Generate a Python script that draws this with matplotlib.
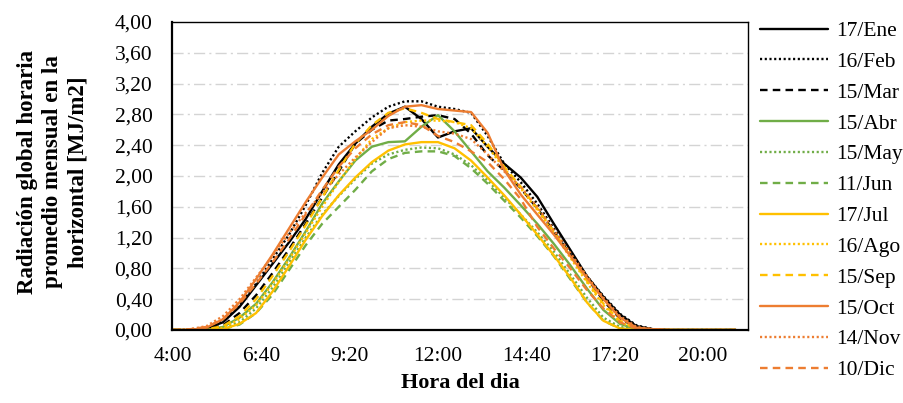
import matplotlib
matplotlib.use("Agg")
import matplotlib.pyplot as plt
import numpy as np

# half-hourly samples from 4:00 to 21:00
hours = np.arange(4.0, 21.01, 0.5)

ene = [0,0,0.02,0.10,0.30,0.58,0.86,1.14,1.44,1.80,2.15,2.42,2.64,2.81,2.90,2.74,2.50,2.58,2.62,2.38,2.16,1.98,1.73,1.38,1.04,0.70,0.43,0.20,0.05,0.01,0,0,0,0,0]
feb = [0,0,0.02,0.12,0.32,0.60,0.92,1.24,1.62,2.04,2.38,2.58,2.76,2.90,2.97,2.97,2.90,2.87,2.82,2.52,2.16,1.92,1.64,1.32,1.00,0.70,0.44,0.21,0.06,0.01,0,0,0,0,0]
mar = [0,0,0.01,0.06,0.22,0.45,0.74,1.05,1.38,1.72,2.06,2.42,2.60,2.72,2.74,2.77,2.79,2.74,2.55,2.27,2.07,1.84,1.58,1.28,0.98,0.68,0.38,0.15,0.03,0,0,0,0,0,0]
abr = [0,0,0,0.04,0.16,0.34,0.62,0.94,1.28,1.64,1.93,2.20,2.38,2.44,2.45,2.64,2.79,2.58,2.32,2.06,1.85,1.62,1.38,1.12,0.84,0.54,0.26,0.08,0.01,0,0,0,0,0,0]
may = [0,0,0,0.02,0.10,0.28,0.55,0.88,1.20,1.50,1.74,1.96,2.16,2.28,2.34,2.37,2.36,2.28,2.14,1.94,1.72,1.50,1.27,1.02,0.72,0.42,0.16,0.04,0.01,0,0,0,0,0,0]
jun = [0,0,0,0.01,0.07,0.22,0.46,0.78,1.10,1.38,1.60,1.82,2.06,2.22,2.30,2.32,2.32,2.26,2.10,1.90,1.68,1.46,1.22,0.96,0.66,0.36,0.12,0.02,0,0,0,0,0,0,0]
jul = [0,0,0,0.01,0.08,0.22,0.50,0.83,1.17,1.48,1.75,1.98,2.18,2.33,2.41,2.44,2.44,2.36,2.20,1.98,1.75,1.50,1.24,0.97,0.68,0.36,0.12,0.02,0,0,0,0,0,0,0]
ago = [0,0,0,0.03,0.14,0.32,0.60,0.92,1.26,1.60,1.92,2.22,2.48,2.62,2.70,2.72,2.72,2.70,2.62,2.38,2.10,1.84,1.56,1.26,0.94,0.62,0.32,0.10,0.02,0,0,0,0,0,0]
sep = [0,0,0.01,0.05,0.18,0.40,0.70,1.02,1.36,1.72,2.08,2.42,2.66,2.82,2.88,2.82,2.74,2.70,2.66,2.42,2.12,1.86,1.58,1.28,0.96,0.64,0.34,0.12,0.02,0,0,0,0,0,0]
octu = [0,0,0.03,0.14,0.36,0.66,0.98,1.32,1.66,1.98,2.28,2.45,2.60,2.78,2.90,2.92,2.87,2.85,2.83,2.56,2.08,1.76,1.50,1.24,0.96,0.68,0.40,0.16,0.03,0.01,0,0,0,0,0]
nov = [0,0.01,0.05,0.18,0.40,0.68,0.96,1.26,1.52,1.78,2.02,2.24,2.44,2.62,2.66,2.64,2.58,2.55,2.48,2.28,2.06,1.86,1.60,1.30,1.00,0.70,0.42,0.18,0.04,0.01,0,0,0,0,0]
dic = [0,0.01,0.04,0.14,0.34,0.60,0.88,1.18,1.50,1.82,2.12,2.36,2.54,2.66,2.70,2.66,2.52,2.44,2.32,2.18,1.96,1.70,1.34,1.06,0.80,0.52,0.28,0.10,0.02,0.01,0,0,0,0,0]

labels = ["17/Ene","16/Feb","15/Mar","15/Abr","15/May","11/Jun",
          "17/Jul","16/Ago","15/Sep","15/Oct","14/Nov","10/Dic"]
series = [ene, feb, mar, abr, may, jun, jul, ago, sep, octu, nov, dic]

xtick_pos = [4, 6 + 40/60, 9 + 20/60, 12, 14 + 40/60, 17 + 20/60, 20]
xtick_labels = ["4:00","6:40","9:20","12:00","14:40","17:20","20:00"]
ytick_pos = [0,0.4,0.8,1.2,1.6,2.0,2.4,2.8,3.2,3.6,4.0]
ytick_labels = ["0,00","0,40","0,80","1,20","1,60","2,00","2,40","2,80","3,20","3,60","4,00"]

BLACK = "#000000"; GREEN = "#70AD47"; YELLOW = "#FFC000"; ORANGE = "#ED7D31"
colors = [BLACK]*3 + [GREEN]*3 + [YELLOW]*3 + [ORANGE]*3
dot = (0, (0.9, 1.1))
dash = (0, (3.2, 2.2))
styles = ["-", dot, dash]*4

plt.rcParams['font.family'] = ['Liberation Serif', 'DejaVu Serif']

fig = plt.figure(figsize=(9.04, 4.03), dpi=100)
ax = fig.add_axes([172/904, 73/403, 576/904, 308/403])

for yv in ytick_pos[1:-1]:
    ax.axhline(yv, color="#D4D4D4", lw=1.0, linestyle=(0, (8, 3, 1.5, 3)), zorder=0)

for vals, lab, c, ls in zip(series, labels, colors, styles):
    ax.plot(hours, vals, color=c, lw=1.7, linestyle=ls, label=lab,
            solid_capstyle="round", dash_capstyle="butt")

ax.set_xlim(3.96, 21.37)
ax.set_ylim(0, 4.0)
ax.set_xticks(xtick_pos)
ax.set_xticklabels(xtick_labels)
ax.set_yticks(ytick_pos)
ax.set_yticklabels(ytick_labels)
ax.tick_params(axis="both", length=0, labelsize=15.5)
ax.tick_params(axis="x", pad=12)
ax.tick_params(axis="y", pad=14)
for s in ["top", "right"]:
    ax.spines[s].set_linewidth(1.0)
for s in ["left", "bottom"]:
    ax.spines[s].set_linewidth(1.6)
for s in ax.spines.values():
    s.set_color("black")

fig.text(460/904, 1 - 383/403, "Hora del dia", ha="center", va="center",
         fontsize=16, fontweight="bold")
fig.text(53/904, 1 - 172/403, "Radiación global horaria\npromedio mensual en la\nhorizontal [MJ/m2]",
         rotation=90, ha="center", va="center", fontsize=16.5, fontweight="bold",
         linespacing=1.25)

leg = fig.legend(loc="upper left", bbox_to_anchor=(760/904, 1 - 21/403), frameon=False,
                 fontsize=15.5, handlelength=3.15, handletextpad=0.37, labelspacing=0.5,
                 borderaxespad=0, borderpad=0)

fig.savefig("out.png", dpi=100)
